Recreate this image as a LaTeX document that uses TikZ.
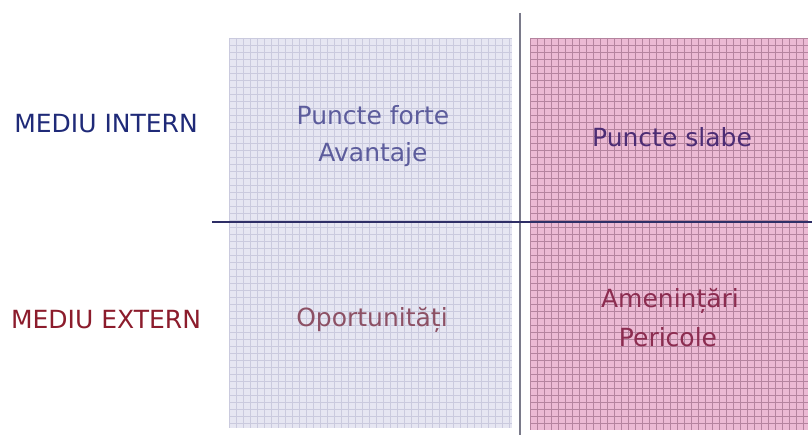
\documentclass[tikz,border=0pt]{standalone}
\usepackage{fontspec}
\setmainfont{DejaVu Sans}
\definecolor{lavfill}{HTML}{E6E6F2}
\definecolor{lavgrid}{HTML}{CACADE}
\definecolor{pinkfill}{HTML}{ECBAD4}
\definecolor{pinkgrid}{HTML}{B5849F}
\definecolor{intc}{HTML}{1F2A78}
\definecolor{extc}{HTML}{8C1C2C}
\definecolor{fortec}{HTML}{5C5C9C}
\definecolor{slabc}{HTML}{4C2C74}
\definecolor{opc}{HTML}{8C5064}
\definecolor{amc}{HTML}{8C2C50}
\definecolor{vline}{HTML}{7A7A8A}
\definecolor{hline}{HTML}{2E2E66}
\begin{document}
\begin{tikzpicture}[x=1pt,y=-1pt,
  panel/.style={draw=none,inner sep=0pt,anchor=north west},
  sidelbl/.style={font=\fontsize{25}{30}\selectfont,anchor=base,inner sep=0pt},
  celltxt/.style={font=\fontsize{25}{30}\selectfont,anchor=base,inner sep=0pt}]
\useasboundingbox (0,0) rectangle (812,435);
\fill[white] (0,0) rectangle (812,435);
% left panel
\node[panel,fill=lavfill,minimum width=283pt,minimum height=390pt] (left) at (229,38) {};
\begin{scope}
  \clip (229,38) rectangle (512,428);
  \foreach \x in {229,236,...,513} \draw[lavgrid,line width=0.7pt] (\x,38) -- (\x,428);
  \foreach \y in {38,45,...,429} \draw[lavgrid,line width=0.7pt] (229,\y) -- (512,\y);
\end{scope}
% right panel
\node[panel,fill=pinkfill,minimum width=278pt,minimum height=392pt] (right) at (530,38) {};
\begin{scope}
  \clip (530,38) rectangle (808,430);
  \foreach \x in {530,537,...,809} \draw[pinkgrid,line width=0.9pt] (\x,38) -- (\x,430);
  \foreach \y in {38,45,...,431} \draw[pinkgrid,line width=0.9pt] (530,\y) -- (808,\y);
\end{scope}
% axes
\coordinate (vtop) at (520,13);
\coordinate (vbot) at (520,435);
\coordinate (hleft) at (212,222);
\coordinate (hright) at (812,222);
\draw[vline,line width=2pt] (vtop) -- (vbot);
\draw[hline,line width=1.4pt] (hleft) -- (hright);
% side labels
\node[sidelbl,text=intc] (mi) at (106,133) {MEDIU INTERN};
\node[sidelbl,text=extc] (me) at (106,329) {MEDIU EXTERN};
% cell texts
\node[celltxt,text=fortec] (pf) at (373,125) {Puncte forte};
\node[celltxt,text=fortec] (av) at (373,162) {Avantaje};
\node[celltxt,text=slabc] (ps) at (672,147) {Puncte slabe};
\node[celltxt,text=opc] (op) at (372,327) {Oportunități};
\node[celltxt,text=amc] (am) at (670,308) {Amenințări};
\node[celltxt,text=amc] (pe) at (668,347) {Pericole};
\end{tikzpicture}
\end{document}
